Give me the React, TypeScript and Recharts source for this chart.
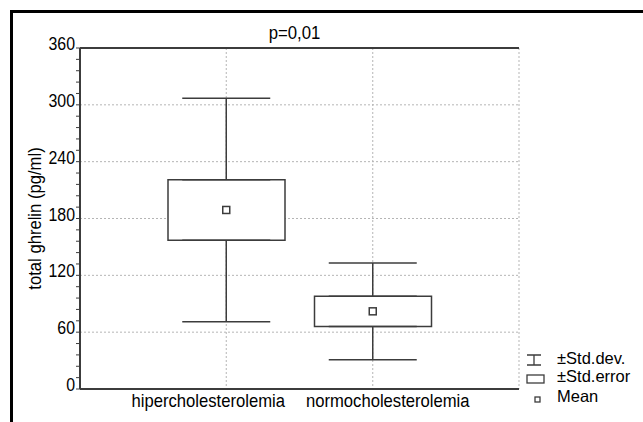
import { ComposedChart, Bar, Scatter, ErrorBar, XAxis, YAxis, CartesianGrid, Legend } from 'recharts';

const categories = ['hipercholesterolemia', 'normocholesterolemia'];
const means = [189, 82];
const stdDevs = [118, 51];
const stdErrors = [32, 16];

const yMajorTicks = [0, 60, 120, 180, 240, 300, 360];
const yMinorTicks = [
  0, 12, 24, 36, 48, 60, 72, 84, 96, 108, 120, 132, 144, 156, 168, 180,
  192, 204, 216, 228, 240, 252, 264, 276, 288, 300, 312, 324, 336, 348, 360,
];
const title = 'p=0,01';
const yLabel = 'total ghrelin (pg/ml)';
const legendLabels = ['±Std.dev.', '±Std.error', 'Mean'];

const FONT = "'Liberation Sans', Arial, sans-serif";
const INK = '#3c3c3c';
const labelShift = [-18, 15];

// whiskers are split at the box edges so nothing shows through the box
const data = categories.map((name, i) => ({
  name,
  mean: means[i],
  boxTop: means[i] + stdErrors[i],
  boxBottom: means[i] - stdErrors[i],
  upperWhisker: [0, stdDevs[i] - stdErrors[i]],
  lowerWhisker: [stdDevs[i] - stdErrors[i], 0],
  seBox: [means[i] - stdErrors[i], means[i] + stdErrors[i]],
}));

// Statistica draws a narrow Arial; squeeze Liberation Sans horizontally
function NText({ x, y, size, sx, anchor = 'start', rotate, children }: any) {
  const t = `translate(${x},${y})${rotate ? ` rotate(${rotate})` : ''} scale(${sx},1)`;
  return (
    <text transform={t} textAnchor={anchor} fontSize={size} fontFamily={FONT} fill="#000">
      {children}
    </text>
  );
}

function CategoryTick({ x, payload, index }: any) {
  return (
    <NText x={x + (labelShift[index] ?? 0)} y={407} size={18.5} sx={0.9} anchor="middle">
      {payload.value}
    </NText>
  );
}

function ValueTick({ x, y, payload }: any) {
  if (!yMajorTicks.includes(payload.value)) return <g />;
  return (
    <NText x={x} y={y + 2} size={18.5} sx={0.86} anchor="end">
      {payload.value}
    </NText>
  );
}

function TitleLabel({ viewBox }: any) {
  return (
    <NText x={viewBox.x + viewBox.width / 2 - 5} y={39} size={18.6} sx={0.9} anchor="middle">
      {title}
    </NText>
  );
}

function YTitle({ viewBox }: any) {
  return (
    <NText x={41} y={viewBox.y + viewBox.height / 2} size={18.5} sx={0.9} anchor="middle" rotate={-90}>
      {yLabel}
    </NText>
  );
}

function StatLegend() {
  return (
    <svg width={123} height={62} style={{ display: 'block' }}>
      <g stroke={INK} strokeWidth={1.3} fill="#fff">
        <path d="M7 7H21M14 7V17M7 17H21" fill="none" />
        <rect x={7} y={27} width={17} height={8} />
        <rect x={15} y={49} width={5} height={5} />
      </g>
      <NText x={37} y={16} size={16.5} sx={1}>{legendLabels[0]}</NText>
      <NText x={37} y={34} size={16.5} sx={1}>{legendLabels[1]}</NText>
      <NText x={37} y={54} size={16.5} sx={1}>{legendLabels[2]}</NText>
    </svg>
  );
}

export default function App() {
  return (
    <div style={{ position: 'absolute', left: 0, top: 0, width: 643, height: 422, background: '#fff' }}>
      <div
        style={{
          position: 'absolute',
          left: 10,
          top: 10,
          width: 633,
          height: 412,
          borderTop: '3px solid #000',
          borderLeft: '3px solid #000',
          boxSizing: 'border-box',
        }}
      />
      <ComposedChart
        width={643}
        height={422}
        data={data}
        margin={{ top: 18, right: 124, bottom: 0, left: 0 }}
        style={{ position: 'absolute', left: 0, top: 0, fontFamily: FONT }}
      >
        <CartesianGrid stroke="#b5b5b5" strokeDasharray="2 2" horizontalValues={yMajorTicks} />
        <XAxis
          dataKey="name"
          xAxisId={0}
          padding={{ left: 73, right: 73 }}
          height={33}
          axisLine={{ stroke: INK, strokeWidth: 2 }}
          tickLine={false}
          tick={<CategoryTick />}
          interval={0}
        />
        <XAxis
          dataKey="name"
          xAxisId="top"
          orientation="top"
          padding={{ left: 73, right: 73 }}
          height={30}
          axisLine={{ stroke: INK, strokeWidth: 2 }}
          tick={false}
          tickLine={false}
          label={{ content: (p: any) => <TitleLabel {...p} /> }}
        />
        <YAxis
          yAxisId={0}
          type="number"
          domain={[0, 360]}
          ticks={yMinorTicks}
          interval={0}
          width={80}
          axisLine={{ stroke: INK, strokeWidth: 2 }}
          tickLine={{ stroke: INK }}
          tickSize={4}
          tickMargin={1}
          tick={<ValueTick />}
          label={{ content: (p: any) => <YTitle {...p} /> }}
        />
        <YAxis
          yAxisId="right"
          orientation="right"
          type="number"
          domain={[0, 360]}
          width={0}
          axisLine={{ stroke: INK, strokeWidth: 1.5 }}
          tick={false}
          tickLine={false}
        />
        <Scatter dataKey="boxTop" isAnimationActive={false} shape={() => <g />}>
          <ErrorBar dataKey="upperWhisker" direction="y" width={44} stroke={INK} strokeWidth={1.5} isAnimationActive={false} />
        </Scatter>
        <Scatter dataKey="boxBottom" isAnimationActive={false} shape={() => <g />}>
          <ErrorBar dataKey="lowerWhisker" direction="y" width={44} stroke={INK} strokeWidth={1.5} isAnimationActive={false} />
        </Scatter>
        <Bar
          dataKey="seBox"
          barSize={117}
          fill="#fff"
          stroke={INK}
          strokeWidth={1.5}
          isAnimationActive={false}
        />
        <Scatter
          dataKey="mean"
          isAnimationActive={false}
          shape={(p: any) => (
            <rect x={p.cx - 3.5} y={p.cy - 3.5} width={7} height={7} fill="#fff" stroke={INK} strokeWidth={1.5} />
          )}
        />
        <Legend
          layout="vertical"
          align="center"
          verticalAlign="middle"
          content={<StatLegend />}
          wrapperStyle={{ left: 520, top: 348, width: 123, height: 62 }}
        />
      </ComposedChart>
    </div>
  );
}
